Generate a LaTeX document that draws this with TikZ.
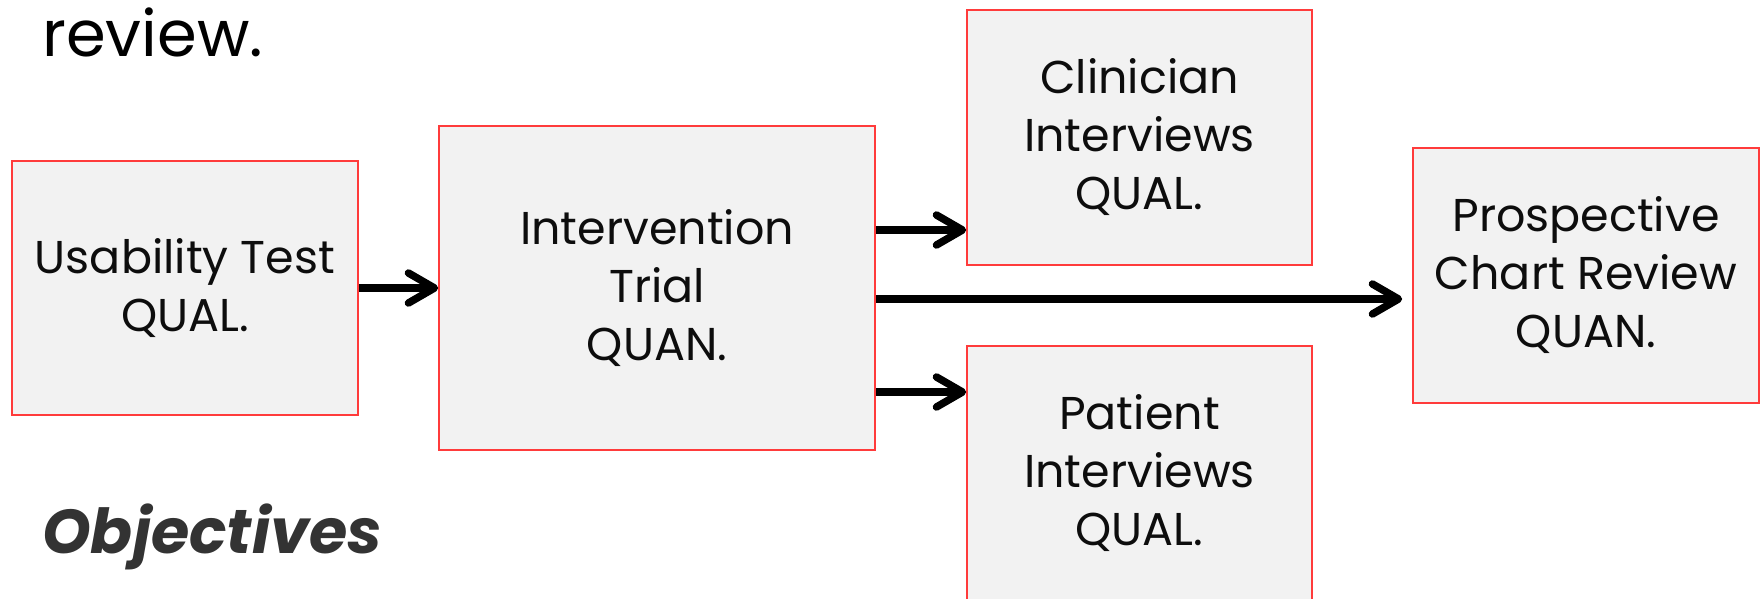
\documentclass[tikz,border=0pt]{standalone}
\usepackage{fontspec}
\setmainfont{Poppins}
\usetikzlibrary{arrows.meta}
\definecolor{boxfill}{HTML}{F2F2F2}
\definecolor{boxedge}{HTML}{FF3B3B}
\definecolor{headgray}{HTML}{333333}
\tikzset{
  stagebox/.style={draw=boxedge, line width=1.6pt, fill=boxfill, align=center,
    inner sep=0pt, font=\fontsize{46}{58}\selectfont, text=black!95},
  flow/.style={line width=7.5pt, -{Straight Barb[length=26pt,width=30pt,round]}}
}
\begin{document}
\begin{tikzpicture}[x=1pt,y=-1pt]
\useasboundingbox (0,0) rectangle (1763,598);

% heading text
\node[anchor=base west, inner sep=0pt, font=\fontsize{64}{70}\selectfont] (rev) at (42,56) {review.};
\node[anchor=base west, inner sep=0pt, text=headgray,
      font=\fontsize{62}{70}\selectfont\bfseries\itshape] (obj) at (42,553) {Objectives};

% study stages
\node[stagebox, minimum width=346pt, minimum height=254pt] (U) at (185,288) {Usability Test\\QUAL.};
\node[stagebox, minimum width=436pt, minimum height=324pt] (I) at (657,288) {Intervention\\Trial\\QUAN.};
\node[stagebox, minimum width=345pt, minimum height=255pt] (C) at (1139.5,137.5) {Clinician\\Interviews\\QUAL.};
\node[stagebox, minimum width=345pt, minimum height=255pt] (P) at (1139.5,473.5) {Patient\\Interviews\\QUAL.};
\node[stagebox, minimum width=346pt, minimum height=255pt] (R) at (1586,275.5) {Prospective\\Chart Review\\QUAN.};

% arrow levels
\coordinate (yc) at (0,230);
\coordinate (yr) at (0,299);
\coordinate (yp) at (0,392);

% connectors
\draw[flow] (U.east) -- (I.west);
\draw[flow] (I.east |- yc) -- (C.west |- yc);
\draw[flow, shorten >=10pt] (I.east |- yr) -- (R.west |- yr);
\draw[flow] (I.east |- yp) -- (P.west |- yp);
\end{tikzpicture}
\end{document}
